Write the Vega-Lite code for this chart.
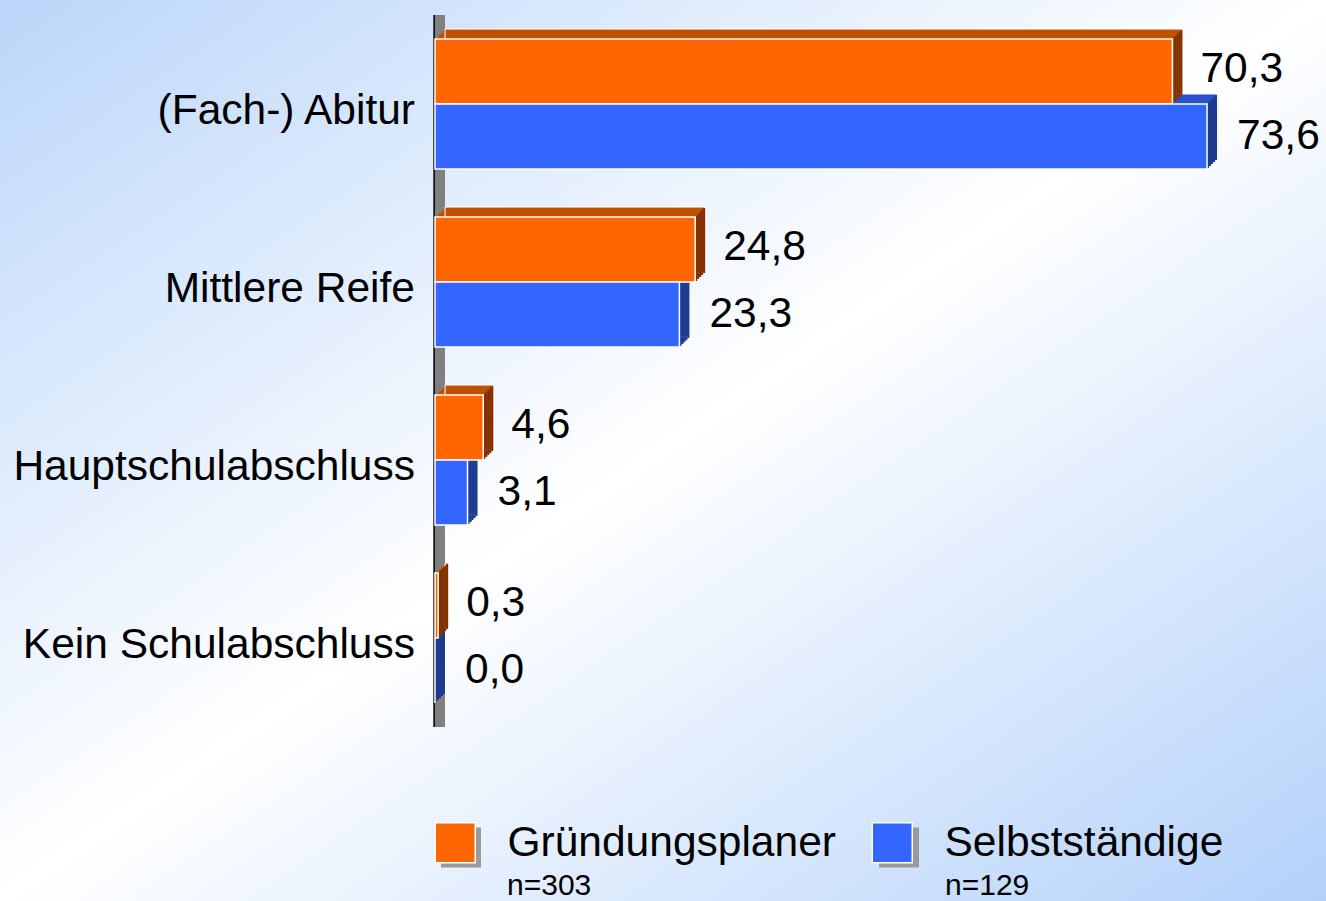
{
  "$schema": "https://vega.github.io/schema/vega-lite/v6.json",
  "width": 1326,
  "height": 901,
  "padding": 0,
  "autosize": {"type": "fit", "contains": "padding"},
  "background": "white",
  "config": {
    "view": {"stroke": null},
    "axis": {"disable": true},
    "font": "Liberation Sans",
    "locale": {"number": {"decimal": ",", "thousands": ".", "grouping": [3], "currency": ["", " €"]}}
  },
  "resolve": {"scale": {"yOffset": "independent"}},
  "data": {
    "values": [
      {"cat": "(Fach-) Abitur", "series": "Gründungsplaner", "n": "n=303", "value": 70.3},
      {"cat": "(Fach-) Abitur", "series": "Selbstständige", "n": "n=129", "value": 73.6},
      {"cat": "Mittlere Reife", "series": "Gründungsplaner", "n": "n=303", "value": 24.8},
      {"cat": "Mittlere Reife", "series": "Selbstständige", "n": "n=129", "value": 23.3},
      {"cat": "Hauptschulabschluss", "series": "Gründungsplaner", "n": "n=303", "value": 4.6},
      {"cat": "Hauptschulabschluss", "series": "Selbstständige", "n": "n=129", "value": 3.1},
      {"cat": "Kein Schulabschluss", "series": "Gründungsplaner", "n": "n=303", "value": 0.3},
      {"cat": "Kein Schulabschluss", "series": "Selbstständige", "n": "n=129", "value": 0.0}
    ]
  },
  "layer": [
    {
      "mark": {"type": "rect", "fill": {"gradient": "linear", "x1": 0, "y1": 0, "x2": 1, "y2": 1, "stops": [{"offset": 0, "color": "#BBD6FA"}, {"offset": 0.5, "color": "#FFFFFF"}, {"offset": 1, "color": "#B3D1FA"}]}},
      "encoding": {}
    },
    {
      "mark": {"type": "bar", "fill": "#808080"},
      "encoding": {
        "x": {"datum": 0, "type": "quantitative", "scale": {"domain": [-41.47, 84.94], "nice": false, "zero": false}},
        "x2": {"datum": 0.95},
        "y": {"field": "cat", "type": "nominal", "scale": {"domain": ["(Fach-) Abitur", "Mittlere Reife", "Hauptschulabschluss", "Kein Schulabschluss"], "paddingInner": 0, "paddingOuter": 0.5309, "align": 0.0794}}
      }
    },
    {
      "mark": {"type": "bar", "fill": "#111111"},
      "encoding": {
        "x": {"datum": -0.14, "type": "quantitative"},
        "x2": {"datum": 0},
        "y": {"field": "cat", "type": "nominal"}
      }
    },
    {"transform": [{"filter": "datum.series == 'Selbstständige'"}], "mark": {"type": "bar", "fill": "#2A50CC", "xOffset": 2, "x2Offset": 2}, "encoding": {"x": {"field": "value", "type": "quantitative"}, "y": {"field": "cat", "type": "nominal"}, "yOffset": {"field": "series", "type": "nominal", "scale": {"type": "band", "domain": ["Gründungsplaner", "Selbstständige"], "paddingInner": 0, "paddingOuter": 0.37, "align": 0.4584}}}},
    {"transform": [{"filter": "datum.series == 'Selbstständige'"}], "mark": {"type": "bar", "fill": "#2A50CC", "xOffset": 4, "x2Offset": 4}, "encoding": {"x": {"field": "value", "type": "quantitative"}, "y": {"field": "cat", "type": "nominal"}, "yOffset": {"field": "series", "type": "nominal", "scale": {"type": "band", "domain": ["Gründungsplaner", "Selbstständige"], "paddingInner": 0, "paddingOuter": 0.37, "align": 0.4168}}}},
    {"transform": [{"filter": "datum.series == 'Selbstständige'"}], "mark": {"type": "bar", "fill": "#2A50CC", "xOffset": 6, "x2Offset": 6}, "encoding": {"x": {"field": "value", "type": "quantitative"}, "y": {"field": "cat", "type": "nominal"}, "yOffset": {"field": "series", "type": "nominal", "scale": {"type": "band", "domain": ["Gründungsplaner", "Selbstständige"], "paddingInner": 0, "paddingOuter": 0.37, "align": 0.3752}}}},
    {"transform": [{"filter": "datum.series == 'Selbstständige'"}], "mark": {"type": "bar", "fill": "#2A50CC", "xOffset": 8, "x2Offset": 8}, "encoding": {"x": {"field": "value", "type": "quantitative"}, "y": {"field": "cat", "type": "nominal"}, "yOffset": {"field": "series", "type": "nominal", "scale": {"type": "band", "domain": ["Gründungsplaner", "Selbstständige"], "paddingInner": 0, "paddingOuter": 0.37, "align": 0.3336}}}},
    {"transform": [{"filter": "datum.series == 'Selbstständige'"}], "mark": {"type": "bar", "fill": "#2A50CC", "stroke": "white", "strokeWidth": 1, "xOffset": 10, "x2Offset": 10}, "encoding": {"x": {"field": "value", "type": "quantitative"}, "y": {"field": "cat", "type": "nominal"}, "yOffset": {"field": "series", "type": "nominal", "scale": {"type": "band", "domain": ["Gründungsplaner", "Selbstständige"], "paddingInner": 0, "paddingOuter": 0.37, "align": 0.2920}}}},
    {"transform": [{"filter": "datum.series == 'Selbstständige'"}], "mark": {"type": "bar", "fill": "#1D3A8C", "xOffset": 0, "x2Offset": 2}, "encoding": {"x": {"field": "value", "type": "quantitative"}, "x2": {"field": "value"}, "y": {"field": "cat", "type": "nominal"}, "yOffset": {"field": "series", "type": "nominal", "scale": {"type": "band", "domain": ["Gründungsplaner", "Selbstständige"], "paddingInner": 0, "paddingOuter": 0.37, "align": 0.4792}}}},
    {"transform": [{"filter": "datum.series == 'Selbstständige'"}], "mark": {"type": "bar", "fill": "#1D3A8C", "xOffset": 2, "x2Offset": 4}, "encoding": {"x": {"field": "value", "type": "quantitative"}, "x2": {"field": "value"}, "y": {"field": "cat", "type": "nominal"}, "yOffset": {"field": "series", "type": "nominal", "scale": {"type": "band", "domain": ["Gründungsplaner", "Selbstständige"], "paddingInner": 0, "paddingOuter": 0.37, "align": 0.4376}}}},
    {"transform": [{"filter": "datum.series == 'Selbstständige'"}], "mark": {"type": "bar", "fill": "#1D3A8C", "xOffset": 4, "x2Offset": 6}, "encoding": {"x": {"field": "value", "type": "quantitative"}, "x2": {"field": "value"}, "y": {"field": "cat", "type": "nominal"}, "yOffset": {"field": "series", "type": "nominal", "scale": {"type": "band", "domain": ["Gründungsplaner", "Selbstständige"], "paddingInner": 0, "paddingOuter": 0.37, "align": 0.3960}}}},
    {"transform": [{"filter": "datum.series == 'Selbstständige'"}], "mark": {"type": "bar", "fill": "#1D3A8C", "xOffset": 6, "x2Offset": 8}, "encoding": {"x": {"field": "value", "type": "quantitative"}, "x2": {"field": "value"}, "y": {"field": "cat", "type": "nominal"}, "yOffset": {"field": "series", "type": "nominal", "scale": {"type": "band", "domain": ["Gründungsplaner", "Selbstständige"], "paddingInner": 0, "paddingOuter": 0.37, "align": 0.3544}}}},
    {"transform": [{"filter": "datum.series == 'Selbstständige'"}], "mark": {"type": "bar", "fill": "#1D3A8C", "xOffset": 8, "x2Offset": 10}, "encoding": {"x": {"field": "value", "type": "quantitative"}, "x2": {"field": "value"}, "y": {"field": "cat", "type": "nominal"}, "yOffset": {"field": "series", "type": "nominal", "scale": {"type": "band", "domain": ["Gründungsplaner", "Selbstständige"], "paddingInner": 0, "paddingOuter": 0.37, "align": 0.3128}}}},
    {"transform": [{"filter": "datum.series == 'Gründungsplaner'"}], "mark": {"type": "bar", "fill": "#C04F00", "xOffset": 2, "x2Offset": 2}, "encoding": {"x": {"field": "value", "type": "quantitative"}, "y": {"field": "cat", "type": "nominal"}, "yOffset": {"field": "series", "type": "nominal", "scale": {"type": "band", "domain": ["Gründungsplaner", "Selbstständige"], "paddingInner": 0, "paddingOuter": 0.37, "align": 0.4584}}}},
    {"transform": [{"filter": "datum.series == 'Gründungsplaner'"}], "mark": {"type": "bar", "fill": "#C04F00", "xOffset": 4, "x2Offset": 4}, "encoding": {"x": {"field": "value", "type": "quantitative"}, "y": {"field": "cat", "type": "nominal"}, "yOffset": {"field": "series", "type": "nominal", "scale": {"type": "band", "domain": ["Gründungsplaner", "Selbstständige"], "paddingInner": 0, "paddingOuter": 0.37, "align": 0.4168}}}},
    {"transform": [{"filter": "datum.series == 'Gründungsplaner'"}], "mark": {"type": "bar", "fill": "#C04F00", "xOffset": 6, "x2Offset": 6}, "encoding": {"x": {"field": "value", "type": "quantitative"}, "y": {"field": "cat", "type": "nominal"}, "yOffset": {"field": "series", "type": "nominal", "scale": {"type": "band", "domain": ["Gründungsplaner", "Selbstständige"], "paddingInner": 0, "paddingOuter": 0.37, "align": 0.3752}}}},
    {"transform": [{"filter": "datum.series == 'Gründungsplaner'"}], "mark": {"type": "bar", "fill": "#C04F00", "xOffset": 8, "x2Offset": 8}, "encoding": {"x": {"field": "value", "type": "quantitative"}, "y": {"field": "cat", "type": "nominal"}, "yOffset": {"field": "series", "type": "nominal", "scale": {"type": "band", "domain": ["Gründungsplaner", "Selbstständige"], "paddingInner": 0, "paddingOuter": 0.37, "align": 0.3336}}}},
    {"transform": [{"filter": "datum.series == 'Gründungsplaner'"}], "mark": {"type": "bar", "fill": "#C04F00", "stroke": "white", "strokeWidth": 1, "xOffset": 10, "x2Offset": 10}, "encoding": {"x": {"field": "value", "type": "quantitative"}, "y": {"field": "cat", "type": "nominal"}, "yOffset": {"field": "series", "type": "nominal", "scale": {"type": "band", "domain": ["Gründungsplaner", "Selbstständige"], "paddingInner": 0, "paddingOuter": 0.37, "align": 0.2920}}}},
    {"transform": [{"filter": "datum.series == 'Gründungsplaner'"}], "mark": {"type": "bar", "fill": "#7E3000", "xOffset": 0, "x2Offset": 2}, "encoding": {"x": {"field": "value", "type": "quantitative"}, "x2": {"field": "value"}, "y": {"field": "cat", "type": "nominal"}, "yOffset": {"field": "series", "type": "nominal", "scale": {"type": "band", "domain": ["Gründungsplaner", "Selbstständige"], "paddingInner": 0, "paddingOuter": 0.37, "align": 0.4792}}}},
    {"transform": [{"filter": "datum.series == 'Gründungsplaner'"}], "mark": {"type": "bar", "fill": "#7E3000", "xOffset": 2, "x2Offset": 4}, "encoding": {"x": {"field": "value", "type": "quantitative"}, "x2": {"field": "value"}, "y": {"field": "cat", "type": "nominal"}, "yOffset": {"field": "series", "type": "nominal", "scale": {"type": "band", "domain": ["Gründungsplaner", "Selbstständige"], "paddingInner": 0, "paddingOuter": 0.37, "align": 0.4376}}}},
    {"transform": [{"filter": "datum.series == 'Gründungsplaner'"}], "mark": {"type": "bar", "fill": "#7E3000", "xOffset": 4, "x2Offset": 6}, "encoding": {"x": {"field": "value", "type": "quantitative"}, "x2": {"field": "value"}, "y": {"field": "cat", "type": "nominal"}, "yOffset": {"field": "series", "type": "nominal", "scale": {"type": "band", "domain": ["Gründungsplaner", "Selbstständige"], "paddingInner": 0, "paddingOuter": 0.37, "align": 0.3960}}}},
    {"transform": [{"filter": "datum.series == 'Gründungsplaner'"}], "mark": {"type": "bar", "fill": "#7E3000", "xOffset": 6, "x2Offset": 8}, "encoding": {"x": {"field": "value", "type": "quantitative"}, "x2": {"field": "value"}, "y": {"field": "cat", "type": "nominal"}, "yOffset": {"field": "series", "type": "nominal", "scale": {"type": "band", "domain": ["Gründungsplaner", "Selbstständige"], "paddingInner": 0, "paddingOuter": 0.37, "align": 0.3544}}}},
    {"transform": [{"filter": "datum.series == 'Gründungsplaner'"}], "mark": {"type": "bar", "fill": "#7E3000", "xOffset": 8, "x2Offset": 10}, "encoding": {"x": {"field": "value", "type": "quantitative"}, "x2": {"field": "value"}, "y": {"field": "cat", "type": "nominal"}, "yOffset": {"field": "series", "type": "nominal", "scale": {"type": "band", "domain": ["Gründungsplaner", "Selbstständige"], "paddingInner": 0, "paddingOuter": 0.37, "align": 0.3128}}}},
    {
      "mark": {"type": "bar", "stroke": "white", "strokeWidth": 1.5},
      "encoding": {
        "x": {"field": "value", "type": "quantitative"},
        "y": {"field": "cat", "type": "nominal"},
        "yOffset": {"field": "series", "type": "nominal", "scale": {"type": "band", "domain": ["Gründungsplaner", "Selbstständige"], "paddingInner": 0, "paddingOuter": 0.37, "align": 0.5}},
        "fill": {
          "field": "series", "type": "nominal",
          "scale": {"domain": ["Gründungsplaner", "Selbstständige"], "range": ["#FF6600", "#3366FF"]},
          "legend": {"orient": "none", "legendX": 434, "legendY": 821, "direction": "horizontal", "title": null, "symbolType": "square", "symbolSize": 1600, "symbolStrokeColor": "white", "symbolStrokeWidth": 1.5, "symbolOpacity": 1, "labelFontSize": 42.5, "labelFont": "Liberation Sans", "labelColor": "#000000", "labelOffset": 31, "labelLimit": 600, "columnPadding": 33, "padding": 0, "zindex": 2}
        }
      }
    },
    {
      "transform": [{"filter": "datum.series == 'Gründungsplaner'"}],
      "mark": {"type": "text", "align": "left", "baseline": "middle", "dx": 28, "dy": -3, "fontSize": 42.5, "font": "Liberation Sans", "color": "#000000"},
      "encoding": {
        "x": {"field": "value", "type": "quantitative"},
        "y": {"field": "cat", "type": "nominal"},
        "yOffset": {"field": "series", "type": "nominal", "scale": {"type": "band", "domain": ["Gründungsplaner", "Selbstständige"], "paddingInner": 0, "paddingOuter": 0.37, "align": 0.5}},
        "text": {"field": "value", "type": "quantitative", "format": ".1f"}
      }
    },
    {
      "transform": [{"filter": "datum.series == 'Selbstständige'"}],
      "mark": {"type": "text", "align": "left", "baseline": "middle", "dx": 30, "dy": 0, "fontSize": 42.5, "font": "Liberation Sans", "color": "#000000"},
      "encoding": {
        "x": {"field": "value", "type": "quantitative"},
        "y": {"field": "cat", "type": "nominal"},
        "yOffset": {"field": "series", "type": "nominal", "scale": {"type": "band", "domain": ["Gründungsplaner", "Selbstständige"], "paddingInner": 0, "paddingOuter": 0.37, "align": 0.5}},
        "text": {"field": "value", "type": "quantitative", "format": ".1f"}
      }
    },
    {
      "transform": [{"filter": "datum.series == 'Gründungsplaner'"}],
      "mark": {"type": "text", "align": "right", "baseline": "middle", "dx": -20, "dy": 7, "fontSize": 42.5, "font": "Liberation Sans", "color": "#000000"},
      "encoding": {
        "x": {"datum": 0, "type": "quantitative"},
        "y": {"field": "cat", "type": "nominal"},
        "text": {"field": "cat", "type": "nominal"}
      }
    },
    {
      "mark": {"type": "point", "opacity": 0, "filled": true, "color": "#9A9A9A"},
      "encoding": {
        "x": {"field": "value", "type": "quantitative"},
        "y": {"field": "cat", "type": "nominal"},
        "yOffset": {"field": "series", "type": "nominal", "scale": {"type": "band", "domain": ["Gründungsplaner", "Selbstständige"], "paddingInner": 0, "paddingOuter": 0.37, "align": 0.5}},
        "shape": {
          "field": "n", "type": "nominal",
          "scale": {"domain": ["n=303", "n=129"], "range": ["M-1,-1.325H1V0.675H-1Z", "M-1,-1.325H1V0.675H-1Z"]},
          "legend": {"orient": "none", "legendX": 441, "legendY": 834, "direction": "horizontal", "title": null, "symbolSize": 1600, "symbolFillColor": "#9A9A9A", "symbolStrokeColor": "#9A9A9A", "symbolStrokeWidth": 0, "symbolOpacity": 1, "labelFontSize": 30, "labelFont": "Liberation Sans", "labelColor": "#000000", "labelOffset": 26, "labelLimit": 600, "labelBaseline": "middle", "labelExpr": "['', '', datum.label]", "columnPadding": 287, "padding": 0, "zindex": 1}
        }
      }
    }
  ]
}
